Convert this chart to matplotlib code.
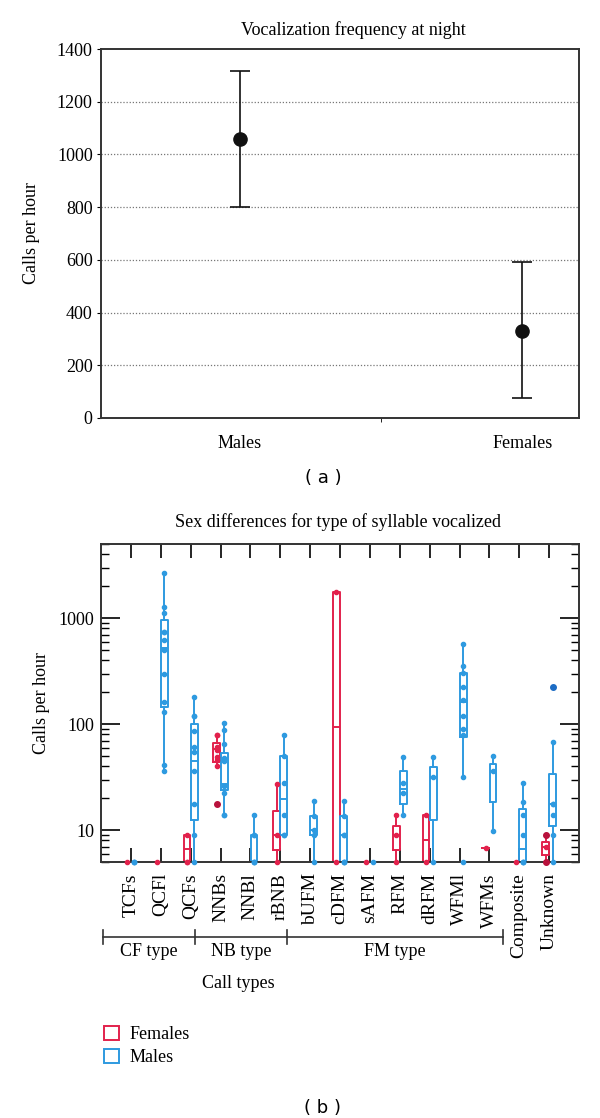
import numpy as np
import matplotlib
matplotlib.use("Agg")
import matplotlib.pyplot as plt
from matplotlib.patches import Patch
from matplotlib.ticker import LogLocator, FixedLocator, NullFormatter

plt.rcParams['font.family'] = ['Liberation Serif', 'DejaVu Serif']

# ---- panel (a) data ----
sexes = ['Males', 'Females']
night_mean = [1060, 330]
night_low = [800, 75]
night_high = [1315, 590]

# ---- panel (b) data ----
call_types = ['TCFs', 'QCFl', 'QCFs', 'NNBs', 'NNBl', 'rBNB', 'bUFM', 'cDFM',
              'sAFM', 'RFM', 'dRFM', 'WFMl', 'WFMs', 'Composite', 'Unknown']

# box stats per call type: (whisker low, q1, median, q3, whisker high), None = no data
fem_box = [(5, 5, 5, 5, 5), (5, 5, 5, 5, 5), (5, 5, 6.6, 8.9, 8.9),
           (40, 44, 58, 65.6, 79), None, (5, 6.5, 8.9, 15.1, 27),
           None, (5, 5, 93, 1770, 1770), (5, 5, 5, 5, 5),
           (5, 6.5, 8.9, 11, 14), (5, 5, 8, 14, 14), None,
           (6.8, 6.8, 6.8, 6.8, 6.8), (5, 5, 5, 5, 5), (5, 5.8, 6.9, 7.7, 8.9)]
male_box = [(5, 5, 5, 5, 5), (36, 145, 525, 960, 2680), (5, 12.4, 45, 100, 182),
            (14, 24, 27, 53, 102), (5, 5, 5, 8.9, 14), (8.9, 8.9, 19.5, 50, 79),
            (5, 8.9, 10, 13.6, 18.8), (5, 5, 8.9, 13.6, 18.8), (5, 5, 5, 5, 5),
            (14, 17.5, 24.6, 36, 49), (5, 12.4, 31.5, 39, 49), (32, 76, 161, 303, 565),
            (9.8, 18.6, 36, 42, 50), (5, 5, 6.6, 15.7, 28), (5, 11, 17.7, 34, 68)]

# individual points
fem_pts = [[5], [5], [8.9, 5, 5], [79, 79, 61, 57, 49, 46, 40], [], [27, 8.9, 5],
           [], [1770, 5], [5], [14, 8.9, 5], [14, 5], [], [6.8], [5], [8.9, 6.9, 5]]
male_pts = [[5, 5, 5], [2680, 1260, 1120, 740, 740, 615, 500, 295, 160, 130, 41, 36],
            [182, 118, 118, 87, 61, 55, 36, 17.8, 8.9, 5],
            [102, 88, 65, 48, 45, 26, 22.5, 14, 14], [14, 8.9, 8.9, 5, 5, 5],
            [79, 50, 28, 14, 8.9, 8.9], [18.8, 13.6, 10, 8.9, 5],
            [18.8, 13.6, 8.9, 8.9, 5, 5, 5], [5], [49, 28, 22.5, 14], [49, 31.5, 5],
            [565, 355, 303, 226, 167, 120, 89, 79, 32, 5], [50, 36, 9.8],
            [28, 18.6, 14, 8.9, 5, 5, 5], [68, 17.7, 17.7, 14, 8.9, 5]]
# outliers drawn darker
fem_out = {3: [17.8], 14: [8.9, 5]}
male_out = {14: [225]}

groups = [('CF type', -0.93, 2.13), ('NB type', 2.13, 5.23), ('FM type', 5.23, 12.47)]

red = '#e2214c'
blue = '#2e9ae0'
dark_red = '#b8123c'
dark_blue = '#1d6cc4'
spine_c = '#333333'

fig = plt.figure(figsize=(6, 11.18), dpi=100)

# ================= panel (a) =================
ax1 = fig.add_axes([101/600, 1-418/1118, 478/600, 369/1118])
xa = np.arange(len(sexes))
mean = np.array(night_mean)
yerr = [mean - np.array(night_low), np.array(night_high) - mean]
ax1.errorbar(xa, mean, yerr=yerr, fmt='o', color='#111111', ms=9.5,
             capsize=7, elinewidth=1.2, capthick=1.2)
ax1.set_xlim(-0.49, 1.2)
ax1.set_ylim(0, 1400)
ax1.set_yticks(range(0, 1401, 200))
ax1.set_xticks(xa)
ax1.set_xticklabels(sexes, fontsize=13)
ax1.xaxis.set_minor_locator(FixedLocator([0.5]))
ax1.tick_params(axis='x', which='major', length=0, pad=12)
ax1.tick_params(axis='x', which='minor', length=3, direction='out')
ax1.tick_params(axis='y', length=3, direction='out', labelsize=13, pad=3)
for y in range(200, 1201, 200):
    ax1.axhline(y, color='#777777', lw=0.9, ls=(0, (1, 1.5)), zorder=0)
for s in ax1.spines.values():
    s.set_color(spine_c)
    s.set_linewidth(1.4)
ax1.set_ylabel('Calls per hour', fontsize=13, labelpad=12)
fig.text(353/600, 1-30/1118, 'Vocalization frequency at night', ha='center',
         va='center', fontsize=13)
fig.text(323/600, 1-478/1118, '( a )', ha='center', va='center', fontsize=13,
         family='DejaVu Sans')

# ================= panel (b) =================
ax2 = fig.add_axes([101/600, 1-862/1118, 478/600, 318/1118])
n = len(call_types)
xb = np.arange(n)
off = 0.12
w = 0.23


def stats_list(boxes):
    out, pos = [], []
    for i, b in enumerate(boxes):
        if b is None:
            continue
        lo, q1, med, q3, hi = b
        out.append(dict(whislo=lo, q1=q1, med=med, q3=q3, whishi=hi, fliers=[]))
        pos.append(i)
    return out, pos


for boxes, pts, outs, sign, col, dcol in [(fem_box, fem_pts, fem_out, -1, red, dark_red),
                                         (male_box, male_pts, male_out, 1, blue, dark_blue)]:
    st, pos = stats_list(boxes)
    pos = np.array(pos) + sign * off
    lp = dict(color=col, lw=1.4)
    ax2.bxp(st, positions=pos, widths=w, showcaps=False, showfliers=False,
            boxprops=lp, whiskerprops=lp, medianprops=lp, manage_ticks=False)
    for i, p in enumerate(pts):
        if p:
            ax2.plot([i + sign * off] * len(p), p, 'o', color=col, ms=3,
                     clip_on=False, zorder=3)
    for i, p in outs.items():
        ax2.plot([i + sign * off] * len(p), p, 'o', color=dcol, ms=4,
                 clip_on=False, zorder=4)

ax2.set_yscale('log')
ax2.set_ylim(5, 5000)
ax2.set_xlim(-1, n)
ax2.set_yticks([10, 100, 1000])
ax2.set_yticklabels(['10', '100', '1000'])
ax2.yaxis.set_minor_locator(LogLocator(base=10, subs=np.arange(2, 10)))
ax2.yaxis.set_minor_formatter(NullFormatter())
ax2.tick_params(axis='y', which='major', direction='in', length=14, width=1.2,
                right=True, labelsize=13, pad=5)
ax2.tick_params(axis='y', which='minor', direction='in', length=6, width=1.0,
                right=True)
ax2.set_xticks(xb)
ax2.set_xticklabels(call_types, rotation=90, fontsize=14, va='top')
ax2.tick_params(axis='x', direction='in', length=10, width=1.2, top=True, pad=8)
for s in ax2.spines.values():
    s.set_color(spine_c)
    s.set_linewidth(1.4)
ax2.set_ylabel('Calls per hour', fontsize=13, labelpad=6)
fig.text(338/600, 1-522/1118, 'Sex differences for type of syllable vocalized',
         ha='center', va='center', fontsize=13)

# group brackets under the labels
tr = ax2.get_xaxis_transform()
yb = -75/318
ax2.plot([groups[0][1], groups[-1][2]], [yb, yb], color=spine_c, lw=1.2,
         transform=tr, clip_on=False)
edges = sorted(set([g[1] for g in groups] + [g[2] for g in groups]))
for e in edges:
    ax2.plot([e, e], [yb - 7/318, yb + 7/318], color=spine_c, lw=1.2,
             transform=tr, clip_on=False)
for name, a, b in groups:
    ax2.text((a + b) / 2, -89/318, name, transform=tr, ha='center', va='center',
             fontsize=13)
fig.text(238/600, 1-983/1118, 'Call types', ha='center', va='center', fontsize=13)

handles = [Patch(facecolor='none', edgecolor=red, lw=1.4),
           Patch(facecolor='none', edgecolor=blue, lw=1.4)]
fig.legend(handles, ['Females', 'Males'], loc='upper left',
           bbox_to_anchor=(88/600, 1-1010/1118), frameon=False, fontsize=13,
           handlelength=0.8, handleheight=0.8, handletextpad=0.6, labelspacing=0.3)
fig.text(323/600, 1-1108/1118, '( b )', ha='center', va='center', fontsize=13,
         family='DejaVu Sans')

fig.savefig('out.png', dpi=100)
